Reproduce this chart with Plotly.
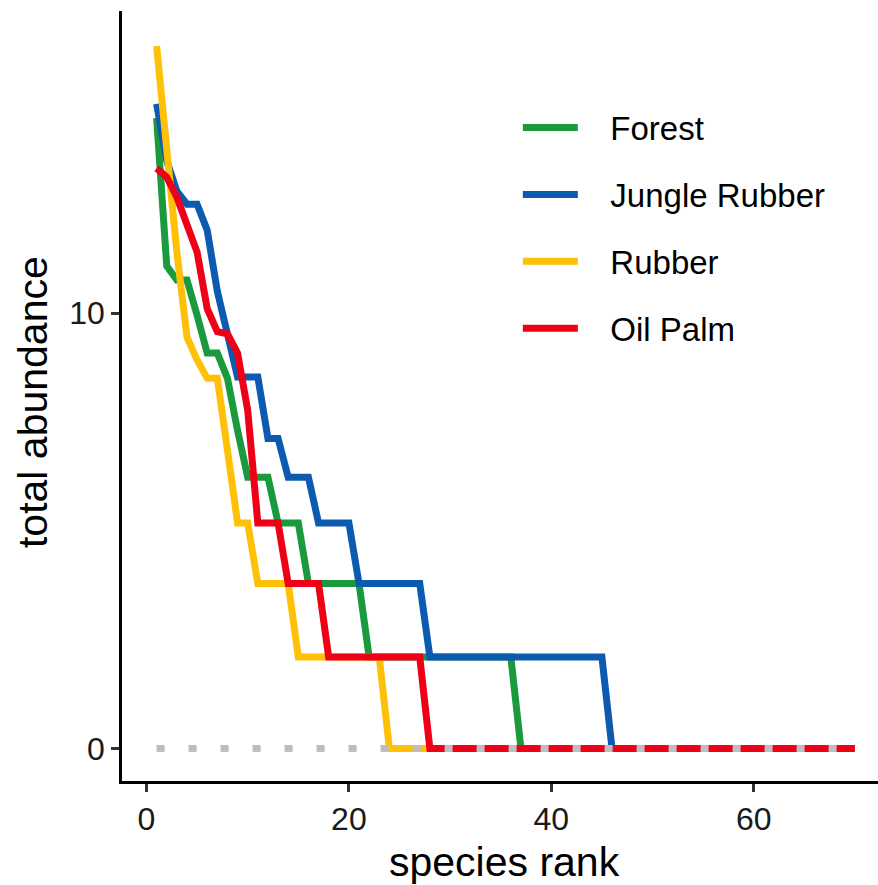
import plotly.graph_objects as go

# Rank–abundance curves for four land-use systems
ranks = list(range(1, 71))

forest = ([14.48, 11.08, 10.76, 10.76, 9.95, 9.08, 9.08, 8.5, 7.3, 6.23,
           6.23, 6.23, 5.18, 5.18, 5.18] + [3.79] * 6 + [2.1] * 15 + [0.0] * 34)
jungle_rubber = ([14.8, 13.5, 12.8, 12.5, 12.5, 11.9, 10.5, 9.55, 8.53, 8.53,
                  8.53, 7.12, 7.12, 6.23, 6.23, 6.23] + [5.18] * 4 + [3.79] * 7
                 + [2.1] * 18 + [0.0] * 25)
rubber = ([16.13, 13.6, 11.4, 9.45, 8.92, 8.5, 8.5, 6.85, 5.18, 5.18]
          + [3.79] * 4 + [2.1] * 9 + [0.0] * 47)
oil_palm = ([13.32, 13.12, 12.66, 11.98, 11.4, 10.1, 9.57, 9.52, 9.08, 7.77]
            + [5.18] * 3 + [3.79] * 4 + [2.1] * 10 + [0.0] * 43)

series_names = ["Forest", "Jungle Rubber", "Rubber", "Oil Palm"]
series_values = [forest, jungle_rubber, rubber, oil_palm]
series_colors = ["#1B9A3D", "#0C5BB0", "#FFC107", "#EE0016"]

baseline_x = [1, 70]
baseline_y = [0, 0]

x_ticks = [0, 20, 40, 60]
y_ticks = [0, 10]

FONT = "Liberation Sans, Arial, Helvetica, sans-serif"
GAP = "\u00a0" * 3  # space between legend key and label

fig = go.Figure()
for name, vals, col in zip(series_names, series_values, series_colors):
    fig.add_trace(go.Scatter(
        x=ranks, y=vals, mode="lines", name=GAP + name, legendgroup=name,
        line=dict(color=col, width=7),
    ))

# dotted zero baseline drawn over the curves
fig.add_trace(go.Scatter(
    x=baseline_x, y=baseline_y, mode="lines", showlegend=False,
    hoverinfo="skip", line=dict(color="#BEBEBE", width=7, dash="8px,24px"),
))

fig.update_layout(
    width=878, height=885,
    margin=dict(l=122, r=0, t=11, b=104),
    paper_bgcolor="white", plot_bgcolor="white",
    font=dict(family=FONT, color="black"),
    showlegend=True,
    legend=dict(
        x=0.5236, y=0.885, xanchor="left", yanchor="top",
        font=dict(size=33, color="black", family=FONT),
        itemwidth=55, tracegroupgap=21, bgcolor="rgba(0,0,0,0)",
    ),
    xaxis=dict(
        range=[-2.42, 72.28], tickvals=x_ticks, ticks="outside", ticklen=8,
        tickwidth=2.5, tickcolor="#333333", showline=True, linecolor="black",
        linewidth=2.5, showgrid=False, zeroline=False,
        tickfont=dict(size=32, color="#1A1A1A", family=FONT),
    ),
    yaxis=dict(
        range=[-0.746, 16.935], tickvals=y_ticks, ticks="outside", ticklen=8,
        tickwidth=2.5, tickcolor="#333333", showline=True, linecolor="black",
        linewidth=2.5, showgrid=False, zeroline=False,
        tickfont=dict(size=32, color="#1A1A1A", family=FONT),
    ),
    annotations=[
        dict(text="species rank", xref="paper", yref="paper", x=0.5066, y=-0.1052,
             xanchor="center", yanchor="middle", showarrow=False,
             font=dict(size=41, color="black", family=FONT)),
        dict(text="total abundance", xref="paper", yref="paper", x=-0.1177, y=0.4922,
             xanchor="center", yanchor="middle", showarrow=False, textangle=-90,
             font=dict(size=41, color="black", family=FONT)),
    ],
)

fig.write_html("out.html")
